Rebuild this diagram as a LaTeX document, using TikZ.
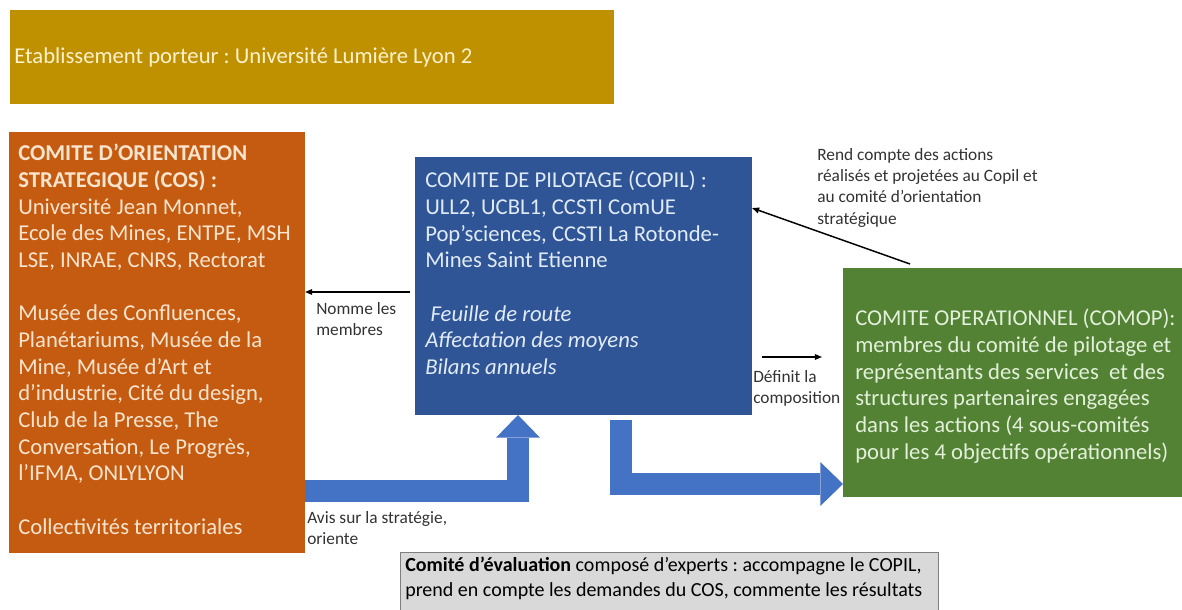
\documentclass[tikz,border=0pt]{standalone}
\usepackage{fontspec}
\setmainfont{Carlito}
\usetikzlibrary{arrows.meta, fit}
\frenchspacing

\definecolor{goldbox}{RGB}{191,144,0}
\definecolor{cosbox}{RGB}{197,90,17}
\definecolor{copilbox}{RGB}{47,85,151}
\definecolor{comopbox}{RGB}{84,130,53}
\definecolor{flowblue}{RGB}{68,114,196}
\definecolor{evalgrey}{RGB}{217,217,217}
\definecolor{evalline}{RGB}{127,127,127}
\definecolor{goldtxt}{RGB}{255,242,204}
\definecolor{costxt}{RGB}{251,229,206}
\definecolor{copiltxt}{RGB}{225,235,248}
\definecolor{comoptxt}{RGB}{226,240,217}
\definecolor{labeltxt}{RGB}{50,50,50}

\tikzset{
  boxshape/.style={inner sep=0pt, outer sep=0pt},
  bigtext/.style={inner sep=0.75pt, align=left, font=\fontsize{17}{20}\selectfont},
  smalltext/.style={inner sep=0.75pt, align=left, text=labeltxt, font=\fontsize{13}{16}\selectfont},
  thinarrow/.style={line width=1.1pt, -{Triangle[length=5.4pt, width=4.2pt]}},
  blockarrow/.style={flowblue, line width=16.5pt, line join=miter,
    -{Triangle[length=17pt, width=33pt, line width=0pt]}},
}

\begin{document}
\begin{tikzpicture}[x=0.75pt,y=0.75pt,yscale=-1,xscale=1]
\useasboundingbox (0,0) rectangle (1182,610);

%Shape: Rectangle [gold]
\node (porteur) [boxshape, fill=goldbox, fit={(10,10) (614,104)}] {};
%Shape: Rectangle [cos]
\node (cos) [boxshape, fill=cosbox, fit={(9,132) (305,553)}] {};
%Shape: Rectangle [copil]
\node (copil) [boxshape, fill=copilbox, fit={(415,157) (752,415)}] {};
%Shape: Rectangle [comop]
\node (comop) [boxshape, fill=comopbox, fit={(843,268) (1182,497)}] {};
%Shape: Rectangle [evaluation]
\node (eval) [boxshape, fill=evalgrey, draw=evalline, line width=0.75pt, fit={(400,552) (938,612)}] {};

%Block arrows
\coordinate (avisstart) at (305,491);
\coordinate (upx) at (518,0);
\draw [blockarrow] (avisstart) -| (upx |- copil.south);
\coordinate (downstart) at (621,420);
\coordinate (comopy) at (0,484);
\draw [blockarrow] (downstart) |- (comop.west |- comopy);

%Straight Lines
\coordinate (nommestart) at (410,292);
\draw [thinarrow] (nommestart) -- (cos.east |- nommestart);
\coordinate (defy) at (0,357);
\draw [thinarrow, shorten <=7.5pt, shorten >=15.75pt] (copil.east |- defy) -- (comop.west |- defy);
\coordinate (rendstart) at (910,264);
\coordinate (rendy) at (0,208);
\draw [thinarrow] (rendstart) -- (copil.east |- rendy);

% Text Node
\draw (13,57) node (porteurtxt) [anchor=west][bigtext, text=goldtxt] {Etablissement porteur : Université Lumière Lyon 2};
% Text Node
\draw (17,143) node (costxt) [anchor=north west][bigtext, text=costxt] {\textbf{COMITE D’ORIENTATION}\\
\textbf{STRATEGIQUE (COS) :}\\
Université Jean Monnet,\\
Ecole des Mines, ENTPE, MSH\\
LSE, INRAE, CNRS, Rectorat\\[20pt]
Musée des Confluences,\\
Planétariums, Musée de la\\
Mine, Musée d’Art et\\
d’industrie, Cité du design,\\
Club de la Presse, The\\
Conversation, Le Progrès,\\
l’IFMA, ONLYLYON\\[20pt]
Collectivités territoriales};
% Text Node
\draw (424,170) node (copiltxt) [anchor=north west][bigtext, text=copiltxt] {COMITE DE PILOTAGE (COPIL) :\\
ULL2, UCBL1, CCSTI ComUE\\
Pop’sciences, CCSTI La Rotonde-\\
Mines Saint Etienne\\[20pt]
\hspace*{4pt}\textit{Feuille de route}\\
\textit{Affectation des moyens}\\
\textit{Bilans annuels}};
% Text Node
\draw (854,308) node (comoptxt) [anchor=north west][bigtext, text=comoptxt] {COMITE OPERATIONNEL (COMOP):\\
membres du comité de pilotage et\\
représentants des services\ \ et des\\
structures partenaires engagées\\
dans les actions (4 sous-comités\\
pour les 4 objectifs opérationnels)};
% Text Node
\draw (404,556) node (evaltxt) [anchor=north west][inner sep=0.75pt][align=left, font=\fontsize{15}{18.5}\selectfont] {\textbf{Comité d’évaluation} composé d’experts : accompagne le COPIL,\\
prend en compte les demandes du COS, commente les résultats};
% Text Node
\draw (315,301) node (nommetxt) [anchor=north west][smalltext] {Nomme les\\membres};
% Text Node
\draw (816,147) node (rendtxt) [anchor=north west][smalltext] {Rend compte des actions\\
réalisés et projetées au Copil et\\
au comité d’orientation\\
stratégique};
% Text Node
\draw (752,369) node (deftxt) [anchor=north west][smalltext] {Définit la\\composition};
% Text Node
\draw (306,510) node (avistxt) [anchor=north west][smalltext] {Avis sur la stratégie,\\oriente};

\end{tikzpicture}
\end{document}
